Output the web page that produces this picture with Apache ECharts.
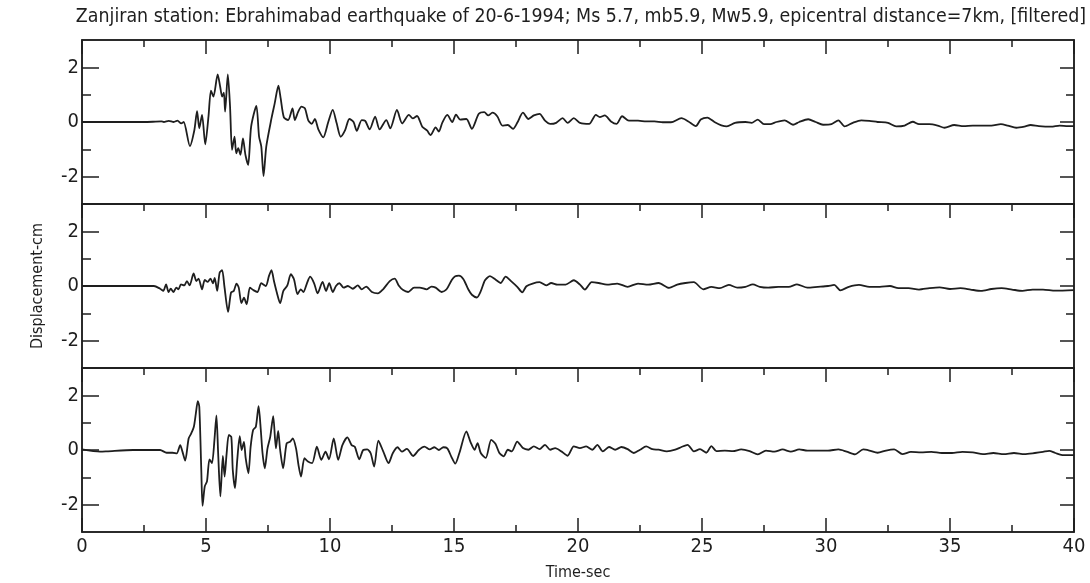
<!DOCTYPE html>
<html>
<head>
<meta charset="utf-8">
<script src="https://cdn.jsdelivr.net/npm/echarts@6/dist/echarts.min.js"></script>
<style>
html,body{margin:0;padding:0;background:#fff;}
#chart{width:1090px;height:583px;}
</style>
</head>
<body>
<div id="chart"></div>
<script>
// ---- DATA ----
var titleText = 'Zanjiran station: Ebrahimabad earthquake of 20-6-1994; Ms 5.7, mb5.9, Mw5.9, epicentral distance=7km, [filtered]';
var xTickLabels = ['0','5','10','15','20','25','30','35','40'];
var yTickLabels = ['-2','0','2'];
var xAxisName = 'Time-sec';
var yAxisName = 'Displacement-cm';

// Trace 1 (top)
var time1 = [0,2.5,3.2,3.3,3.5,3.7,3.85,4.0,4.1,4.35,4.53,4.64,4.73,4.84,4.97,5.1,5.2,5.3,5.47,5.57,5.65,5.72,5.77,5.88,5.97,6.05,6.15,6.22,6.3,6.39,6.49,6.59,6.7,6.82,7.03,7.14,7.23,7.32,7.43,7.64,7.77,7.92,8.01,8.14,8.31,8.49,8.58,8.72,8.85,8.99,9.12,9.26,9.39,9.53,9.73,9.93,10.11,10.27,10.43,10.61,10.78,10.95,11.08,11.28,11.42,11.6,11.82,12.0,12.27,12.43,12.7,12.91,13.18,13.34,13.51,13.72,13.92,14.05,14.26,14.39,14.53,14.73,14.93,15.08,15.25,15.5,15.72,16.0,16.22,16.38,16.55,16.75,16.95,17.17,17.38,17.55,17.78,18.0,18.22,18.45,18.67,18.88,19.12,19.38,19.58,19.83,20.08,20.45,20.72,20.88,21.08,21.33,21.55,21.78,22.05,22.42,22.75,23.08,23.42,23.75,24.17,24.45,24.75,24.95,25.22,25.5,25.78,26.0,26.33,26.75,27.0,27.25,27.5,27.75,28.0,28.33,28.67,28.92,29.28,29.58,29.88,30.22,30.5,30.75,31.08,31.42,31.75,32.08,32.5,32.83,33.17,33.5,33.75,34.17,34.5,34.78,35.17,35.55,35.92,36.25,36.67,37.05,37.33,37.67,38.0,38.25,38.58,39.08,39.42,39.75,40.0];
var disp1 = [0,0,0.02,0.0,0.04,0.0,0.05,-0.05,0.0,-0.88,-0.3,0.4,-0.23,0.26,-0.82,0.2,1.15,0.93,1.74,1.3,0.93,1.07,0.38,1.74,0.56,-1.02,-0.54,-1.15,-0.96,-1.2,-0.6,-1.2,-1.57,-0.17,0.59,-0.54,-0.9,-1.98,-0.9,0.13,0.68,1.33,0.87,0.17,0.07,0.5,0.07,0.38,0.56,0.5,0.07,-0.07,0.11,-0.27,-0.56,0.0,0.44,-0.05,-0.54,-0.3,0.11,0.0,-0.32,0.07,0.04,-0.27,0.2,-0.27,0.07,-0.23,0.44,-0.05,0.26,0.13,0.22,-0.17,-0.32,-0.48,-0.2,-0.35,-0.02,0.26,0.0,0.27,0.09,0.11,-0.25,0.3,0.36,0.24,0.34,0.2,-0.13,-0.11,-0.25,-0.03,0.34,0.11,0.24,0.3,0.05,-0.07,-0.03,0.14,-0.03,0.14,-0.03,-0.07,0.26,0.18,0.24,0.02,-0.07,0.21,0.05,0.05,0.02,0.02,-0.01,-0.01,0.14,0.02,-0.15,0.09,0.16,0.0,-0.12,-0.16,-0.03,0.0,-0.03,0.09,-0.08,-0.08,0.0,0.06,-0.1,0.0,0.1,0.0,-0.1,-0.08,0.06,-0.16,-0.03,0.06,0.04,0.0,-0.03,-0.16,-0.13,0.01,-0.08,-0.08,-0.13,-0.21,-0.11,-0.15,-0.13,-0.13,-0.13,-0.08,-0.13,-0.21,-0.17,-0.11,-0.15,-0.17,-0.13,-0.15,-0.15];

// Trace 2 (middle)
var time2 = [0,2.5,2.9,3.15,3.28,3.39,3.49,3.58,3.69,3.8,3.89,3.99,4.12,4.23,4.34,4.5,4.61,4.7,4.84,4.95,5.07,5.18,5.28,5.35,5.45,5.55,5.65,5.74,5.89,6.01,6.12,6.23,6.32,6.43,6.53,6.64,6.77,6.91,7.07,7.23,7.41,7.54,7.64,7.74,7.85,7.99,8.12,8.28,8.42,8.55,8.69,8.82,8.93,9.07,9.2,9.36,9.5,9.7,9.84,9.97,10.11,10.24,10.38,10.55,10.72,10.92,11.12,11.28,11.46,11.69,11.93,12.14,12.41,12.61,12.77,12.95,13.15,13.39,13.62,13.89,14.09,14.26,14.5,14.7,14.91,15.05,15.2,15.38,15.58,15.72,15.92,16.08,16.25,16.45,16.67,16.88,17.08,17.3,17.55,17.75,17.92,18.17,18.45,18.72,18.92,19.17,19.5,19.83,20.08,20.28,20.55,20.83,21.17,21.58,22.0,22.42,22.83,23.25,23.67,24.0,24.33,24.67,25.05,25.38,25.72,26.08,26.42,26.75,27.05,27.33,27.67,28.08,28.5,28.83,29.25,29.67,30.08,30.33,30.58,30.92,31.33,31.75,32.17,32.58,32.92,33.33,33.75,34.17,34.58,35.0,35.42,35.83,36.25,36.67,37.08,37.5,37.92,38.33,38.75,39.25,40.0];
var disp2 = [0,0,0,-0.1,-0.18,0.06,-0.22,-0.1,-0.22,-0.06,-0.12,0.06,0.02,0.18,0.02,0.46,0.18,0.27,-0.12,0.22,0.15,0.27,0.1,0.3,-0.18,0.49,0.58,0.0,-0.95,-0.24,-0.18,0.09,-0.06,-0.63,-0.43,-0.67,-0.06,-0.15,-0.22,0.1,0.0,0.37,0.58,0.18,-0.22,-0.63,-0.18,0.02,0.43,0.24,-0.3,-0.12,-0.22,0.1,0.34,0.1,-0.27,0.15,-0.18,0.1,-0.22,0.0,0.1,-0.06,0.0,-0.1,0.02,-0.12,-0.02,-0.22,-0.27,-0.12,0.18,0.27,0.02,-0.15,-0.22,-0.06,-0.06,-0.12,-0.02,-0.06,-0.22,-0.12,0.22,0.36,0.38,0.25,-0.13,-0.32,-0.42,-0.19,0.21,0.36,0.24,0.11,0.34,0.18,-0.03,-0.23,-0.01,0.09,0.14,0.02,0.11,0.05,0.05,0.21,0.05,-0.13,0.14,0.11,0.05,0.09,-0.03,0.09,0.05,0.11,-0.07,0.05,0.11,0.14,-0.12,-0.03,-0.08,0.04,-0.06,-0.03,0.06,-0.03,-0.06,-0.03,-0.03,0.06,-0.06,-0.03,0.0,0.04,-0.16,-0.03,0.04,-0.03,-0.03,0.0,-0.08,-0.08,-0.13,-0.08,-0.05,-0.11,-0.08,-0.13,-0.18,-0.11,-0.08,-0.13,-0.18,-0.13,-0.13,-0.17,-0.15];

// Trace 3 (bottom)
var time3 = [0,0.73,1.0,2.06,3.15,3.41,3.65,3.82,3.96,4.05,4.16,4.3,4.4,4.51,4.59,4.67,4.73,4.81,4.86,4.95,5.04,5.14,5.24,5.34,5.42,5.49,5.58,5.68,5.75,5.83,5.92,6.02,6.08,6.17,6.26,6.36,6.44,6.53,6.6,6.71,6.8,6.9,7.01,7.12,7.21,7.28,7.37,7.48,7.59,7.71,7.82,7.91,7.99,8.11,8.25,8.39,8.5,8.63,8.73,8.83,8.97,9.11,9.28,9.47,9.65,9.82,9.96,10.15,10.33,10.5,10.7,10.87,11.0,11.18,11.34,11.5,11.64,11.78,11.95,12.15,12.36,12.53,12.72,12.9,13.1,13.35,13.58,13.81,14.02,14.21,14.39,14.57,14.73,14.89,15.05,15.22,15.5,15.67,15.83,15.95,16.08,16.28,16.5,16.67,16.83,17.0,17.17,17.33,17.55,17.78,18.0,18.22,18.45,18.67,18.88,19.08,19.33,19.58,19.83,20.08,20.33,20.58,20.78,21.0,21.25,21.5,21.75,22.0,22.25,22.5,22.75,23.0,23.25,23.58,23.92,24.17,24.42,24.67,24.92,25.17,25.38,25.58,25.92,26.25,26.58,26.92,27.25,27.58,27.92,28.25,28.58,28.92,29.25,29.67,30.08,30.5,30.83,31.17,31.5,31.75,32.08,32.42,32.75,33.08,33.42,33.83,34.25,34.67,35.08,35.5,35.92,36.33,36.75,37.17,37.58,38.0,38.42,38.75,39.0,39.25,39.58,40.0];
var disp3 = [0.02,-0.06,-0.05,0.0,0.0,-0.1,-0.1,-0.12,0.18,-0.06,-0.39,0.42,0.6,0.85,1.33,1.79,1.58,-0.73,-2.04,-1.33,-1.15,-0.34,-0.48,0.36,1.27,-0.12,-1.7,-0.22,-0.97,-0.15,0.55,0.48,-0.73,-1.39,-0.36,0.51,0.0,0.3,-0.3,-0.85,0.12,0.73,0.85,1.6,0.73,-0.12,-0.67,0.06,0.48,1.24,0.06,0.7,0.0,-0.67,0.24,0.3,0.42,0.06,-0.55,-0.97,-0.3,-0.42,-0.48,0.12,-0.36,-0.06,-0.34,0.42,-0.36,0.18,0.46,0.18,0.12,-0.34,0.0,0.02,-0.12,-0.61,0.34,-0.06,-0.48,-0.12,0.1,-0.06,0.04,-0.22,0.0,0.12,0.02,0.1,0.0,0.1,0.06,-0.24,-0.5,-0.1,0.68,0.28,0.01,0.25,-0.11,-0.29,0.37,0.23,-0.11,-0.23,0.01,-0.05,0.31,0.07,0.01,0.13,0.03,0.19,0.01,0.07,-0.05,-0.21,0.13,0.07,0.13,0.01,0.19,-0.05,0.11,0.01,0.11,0.03,-0.11,0.01,0.13,0.03,0.01,-0.05,0.01,0.11,0.19,-0.05,0.03,-0.1,0.14,-0.04,-0.02,-0.04,0.02,-0.04,-0.16,-0.02,-0.06,0.02,-0.06,0.02,-0.02,-0.02,-0.02,0.02,-0.06,-0.16,0.02,-0.02,-0.1,-0.02,0.02,-0.15,-0.07,-0.09,-0.07,-0.11,-0.11,-0.07,-0.09,-0.15,-0.11,-0.15,-0.11,-0.15,-0.11,-0.07,-0.03,-0.11,-0.19,-0.19];

// ---- CHART ----
function pairs(t, v) { var out = []; for (var i = 0; i < t.length; i++) out.push([t[i], v[i]]); return out; }
var traces = [pairs(time1, disp1), pairs(time2, disp2), pairs(time3, disp3)];

var FONT = "'DejaVu Sans Condensed', 'Liberation Sans Narrow', 'Roboto Condensed', 'DejaVu Sans', sans-serif";
var INK = '#1e1e1e';
var gridTops = [40, 204, 368];
var gridH = 164;

var grids = [], xAxes = [], yAxes = [], series = [];
gridTops.forEach(function (top, g) {
  grids.push({ left: 82, width: 992, top: top, height: gridH, show: true, borderColor: INK, borderWidth: 1.5, backgroundColor: 'transparent' });
  // top axis (ticks pointing down)
  xAxes.push({
    gridIndex: g, type: 'value', position: 'top', min: 0, max: 40, interval: 5,
    axisLine: { show: true, onZero: false, lineStyle: { color: INK, width: 1.5 } },
    axisTick: { show: true, inside: true, length: 14, lineStyle: { color: INK, width: 1.5 } },
    minorTick: { show: true, splitNumber: 2, length: 7, lineStyle: { color: INK, width: 1.5 } },
    axisLabel: { show: false }, splitLine: { show: false }, minorSplitLine: { show: false }
  });
  var topXIndex = xAxes.length - 1;
  if (g === 2) {
    xAxes.push({
      gridIndex: g, type: 'value', position: 'bottom', min: 0, max: 40, interval: 5,
      name: xAxisName, nameLocation: 'middle', nameGap: 33,
      nameTextStyle: { fontFamily: FONT, fontSize: 16, color: INK },
      axisLine: { show: true, onZero: false, lineStyle: { color: INK, width: 1.5 } },
      axisTick: { show: true, inside: true, length: 14, lineStyle: { color: INK, width: 1.5 } },
      minorTick: { show: true, splitNumber: 2, length: 7, lineStyle: { color: INK, width: 1.5 } },
      axisLabel: { show: true, margin: 5, fontFamily: FONT, fontSize: 20, color: INK,
        formatter: function (v) { var i = Math.round(v / 5); return xTickLabels[i] !== undefined ? xTickLabels[i] : ''; } },
      splitLine: { show: false }, minorSplitLine: { show: false }
    });
  }
  // left main y axis
  var yMain = {
    gridIndex: g, type: 'value', position: 'left', min: -3, max: 3, interval: 1,
    axisLine: { show: true, onZero: false, lineStyle: { color: INK, width: 1.5 } },
    axisTick: { show: true, inside: true, length: 17, customValues: [-2, 0, 2], lineStyle: { color: INK, width: 1.5 } },
    axisLabel: { show: true, margin: 3, fontFamily: FONT, fontSize: 20, color: INK, customValues: [-2, 0, 2],
      formatter: function (v) { var i = Math.round((v + 2) / 2); return yTickLabels[i] !== undefined ? yTickLabels[i] : ''; } },
    splitLine: { show: false }
  };
  if (g === 1) {
    yMain.name = yAxisName; yMain.nameLocation = 'middle'; yMain.nameGap = 36; yMain.nameRotate = 90;
    yMain.nameTextStyle = { fontFamily: FONT, fontSize: 16, color: INK };
  }
  yAxes.push(yMain);
  var yMainIndex = yAxes.length - 1;
  // left minor ticks
  yAxes.push({
    gridIndex: g, type: 'value', position: 'left', min: -3, max: 3, interval: 1,
    axisLine: { show: false, onZero: false },
    axisTick: { show: true, inside: true, length: 9, customValues: [-1, 1], lineStyle: { color: INK, width: 1.5 } },
    axisLabel: { show: false }, splitLine: { show: false }
  });
  // right major ticks
  yAxes.push({
    gridIndex: g, type: 'value', position: 'right', min: -3, max: 3, interval: 1,
    axisLine: { show: true, onZero: false, lineStyle: { color: INK, width: 1.5 } },
    axisTick: { show: true, inside: true, length: 14, customValues: [-2, 0, 2], lineStyle: { color: INK, width: 1.5 } },
    axisLabel: { show: false }, splitLine: { show: false }
  });
  // right minor ticks
  yAxes.push({
    gridIndex: g, type: 'value', position: 'right', min: -3, max: 3, interval: 1,
    axisLine: { show: false, onZero: false },
    axisTick: { show: true, inside: true, length: 8, customValues: [-1, 1], lineStyle: { color: INK, width: 1.5 } },
    axisLabel: { show: false }, splitLine: { show: false }
  });
  series.push({
    type: 'line', xAxisIndex: topXIndex, yAxisIndex: yMainIndex, data: traces[g],
    showSymbol: false, symbol: 'none', smooth: 0.25, animation: false,
    lineStyle: { color: INK, width: 1.8 }, z: 5
  });
});

var chart = echarts.init(document.getElementById('chart'), null, { renderer: 'canvas' });
chart.setOption({
  backgroundColor: '#ffffff',
  animation: false,
  title: {
    text: titleText, left: 576, top: 2, textAlign: 'center',
    textStyle: { fontFamily: FONT, fontSize: 19.4, fontWeight: 'normal', color: INK }
  },
  grid: grids, xAxis: xAxes, yAxis: yAxes, series: series
});
</script>
</body>
</html>
